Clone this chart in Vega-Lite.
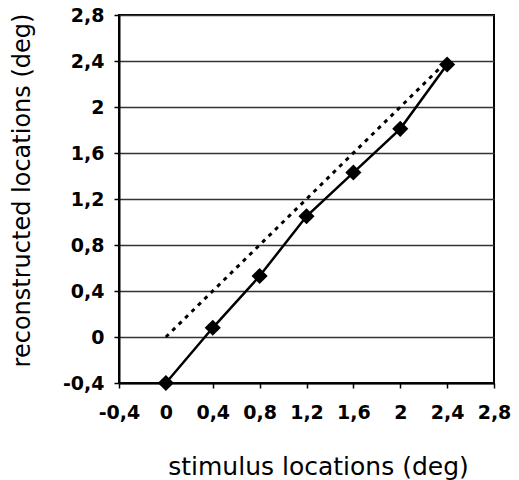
{
  "$schema": "https://vega.github.io/schema/vega-lite/v6.json",
  "width": 375,
  "height": 368,
  "autosize": {"type": "none"},
  "padding": {"left": 119, "top": 15, "right": 25, "bottom": 97},
  "background": "white",
  "config": {
    "view": {"stroke": "black", "strokeWidth": 2},
    "axis": {
      "domainColor": "black",
      "domainWidth": 2,
      "tickColor": "black",
      "tickWidth": 1.5,
      "tickSize": 5,
      "labelFont": "DejaVu Sans",
      "labelFontWeight": "bold",
      "labelFontSize": 19,
      "labelColor": "black",
      "titleFont": "DejaVu Sans",
      "titleFontWeight": "normal",
      "titleFontSize": 24,
      "titleColor": "black",
      "gridColor": "#333333",
      "gridWidth": 1.6,
      "gridOpacity": 1
    }
  },
  "data": {
    "values": [
      {"x": 0, "y": 0, "series": "ideal"},
      {"x": 2.4, "y": 2.4, "series": "ideal"},
      {"x": 0, "y": -0.4, "series": "reconstructed"},
      {"x": 0.4, "y": 0.08, "series": "reconstructed"},
      {"x": 0.8, "y": 0.53, "series": "reconstructed"},
      {"x": 1.2, "y": 1.05, "series": "reconstructed"},
      {"x": 1.6, "y": 1.43, "series": "reconstructed"},
      {"x": 2.0, "y": 1.81, "series": "reconstructed"},
      {"x": 2.4, "y": 2.37, "series": "reconstructed"}
    ]
  },
  "encoding": {
    "x": {
      "field": "x",
      "type": "quantitative",
      "scale": {"domain": [-0.4, 2.8], "nice": false, "zero": false},
      "axis": {
        "title": "stimulus locations (deg)",
        "titleFontSize": 25,
        "titleX": 199,
        "values": [-0.4, 0, 0.4, 0.8, 1.2, 1.6, 2, 2.4, 2.8],
        "labelExpr": "replace(replace(format(datum.value, '.1~f'), '.', ','), '−', '-')",
        "grid": false,
        "labelPadding": 15,
        "titlePadding": 32,
        "labelFlush": false,
        "labelOverlap": false
      }
    },
    "y": {
      "field": "y",
      "type": "quantitative",
      "scale": {"domain": [-0.4, 2.8], "nice": false, "zero": false},
      "axis": {
        "title": "reconstructed locations (deg)",
        "titleY": 175,
        "values": [-0.4, 0, 0.4, 0.8, 1.2, 1.6, 2, 2.4, 2.8],
        "labelExpr": "replace(replace(format(datum.value, '.1~f'), '.', ','), '−', '-')",
        "grid": true,
        "labelPadding": 10,
        "titlePadding": 28,
        "labelFlush": false,
        "labelOverlap": false
      }
    }
  },
  "layer": [
    {
      "transform": [{"filter": "datum.series === 'ideal'"}],
      "mark": {"type": "line", "color": "black", "strokeWidth": 3, "strokeDash": [4, 5]}
    },
    {
      "transform": [{"filter": "datum.series === 'reconstructed'"}],
      "mark": {
        "type": "line",
        "color": "black",
        "strokeWidth": 2.5,
        "point": {"shape": "diamond", "size": 260, "filled": true, "color": "black", "opacity": 1}
      }
    }
  ]
}
